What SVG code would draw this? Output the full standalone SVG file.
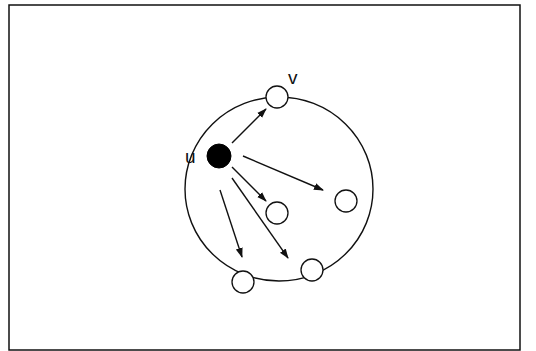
<svg xmlns="http://www.w3.org/2000/svg" width="536" height="351" viewBox="0 0 536 351">
<style>
.frame{fill:none;stroke:#111;stroke-width:1.5}
.ring{fill:none;stroke:#111;stroke-width:1.4}
.node{fill:#fff;stroke:#111;stroke-width:1.3}
.filled{fill:#000;stroke:#000;stroke-width:1}
.edge{stroke:#111;stroke-width:1.4;fill:none;marker-end:url(#ah)}
.lbl{font-family:"Liberation Sans",Arial,sans-serif;font-size:19px;fill:#111}
</style>
<defs>
<marker id="ah" viewBox="0 0 10 10" refX="9" refY="5" markerWidth="10" markerHeight="10" markerUnits="userSpaceOnUse" orient="auto">
<path d="M0,1.5 L10,5 L0,8.5 Z" fill="#111"/>
</marker>
</defs>
<rect class="frame" x="9" y="5" width="511" height="345"/>
<ellipse class="ring" cx="279" cy="189" rx="94" ry="92"/>
<g id="connectors">
<line class="edge" x1="232" y1="143" x2="266" y2="109"/>
<line class="edge" x1="243" y1="156" x2="323" y2="190"/>
<line class="edge" x1="232" y1="167" x2="266" y2="201"/>
<line class="edge" x1="232" y1="178" x2="288" y2="258"/>
<line class="edge" x1="220" y1="190" x2="242" y2="257"/>
</g>
<g id="u"><circle class="filled" cx="219" cy="156" r="12"/><text class="lbl" x="185" y="163">u</text></g>
<g id="v"><circle class="node" cx="277" cy="97" r="11"/><text class="lbl" x="288" y="84">v</text></g>
<g id="n1"><circle class="node" cx="346" cy="201" r="11"/></g>
<g id="n2"><circle class="node" cx="277" cy="213" r="11"/></g>
<g id="n3"><circle class="node" cx="243" cy="282" r="11"/></g>
<g id="n4"><circle class="node" cx="312" cy="270" r="11"/></g>
</svg>
